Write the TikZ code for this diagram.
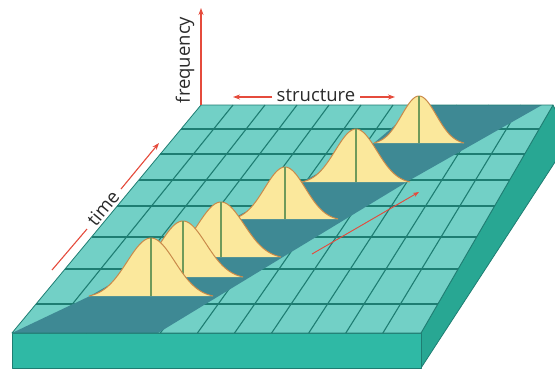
\documentclass[tikz,border=0pt]{standalone}
\usepackage{fontspec}
\setmainfont{Open Sans}
\usetikzlibrary{arrows.meta}
\definecolor{topc}{HTML}{72D0C6}
\definecolor{gridc}{HTML}{1E7D72}
\definecolor{shadec}{HTML}{3E8994}
\definecolor{frontc}{HTML}{2FB9A5}
\definecolor{sidec}{HTML}{28A793}
\definecolor{bellfill}{HTML}{FBE89C}
\definecolor{bellline}{HTML}{C98A4A}
\definecolor{bellmid}{HTML}{6F9A5A}
\definecolor{axisred}{HTML}{E54B3C}
\definecolor{textc}{HTML}{2A2A2A}
\tikzset{
  gridline/.style={draw=gridc, line width=1.1pt},
  edgeline/.style={draw=gridc, line width=0.8pt, line join=round},
  bellshape/.style={fill=bellfill, draw=bellline, line width=1pt},
  bellaxis/.style={draw=bellmid, line width=1.1pt},
  redarrow/.style={draw=axisred, fill=axisred, line width=1.1pt, -{Stealth[length=7pt,width=5pt]}},
  redline/.style={draw=axisred, line width=1.1pt},
  label/.style={text=textc, font=\fontsize{18.5}{18.5}\selectfont, inner sep=0pt}
}
\newcommand{\bellcurve}[4]{% cx, base y, half width, height
  \pgfmathsetmacro{\bs}{#3/2.6}
  \pgfmathsetmacro{\be}{exp(-3.38)}
  \filldraw[bellshape] plot[domain=-#3:#3, samples=70, smooth]
    ({#1+\x}, {#2 - #4*(exp(-(\x*\x)/(2*\bs*\bs)) - \be)/(1-\be)});
  \draw[bellaxis] (#1,#2-#4) -- (#1,#2);
}
\begin{document}
\begin{tikzpicture}[x=1pt,y=-1pt]
\useasboundingbox (0,0) rectangle (555,368);
\begin{scope}
\clip (0,0) rectangle (555,368);
% slab faces
\coordinate (FL) at (12,333);
\coordinate (BL) at (201,105);
\coordinate (BR) at (553,105);
\coordinate (FR) at (421,333);
\coordinate (FLb) at (12,368);
\coordinate (FRb) at (421,368);
\coordinate (BRb) at (570,139);
\filldraw[fill=sidec, edgeline] (FR) -- (BR) -- (BRb) -- (FRb) -- cycle;
\filldraw[fill=frontc, edgeline] (FL) -- (FR) -- (FRb) -- (FLb) -- cycle;
\fill[topc] (FL) -- (BL) -- (BR) -- (FR) -- cycle;
% grid rows
\foreach \yy in {129,154,180,206,237,269,304}{
  \pgfmathsetmacro{\xl}{201-0.82895*(\yy-105)}
  \pgfmathsetmacro{\xr}{553-0.57895*(\yy-105)}
  \draw[gridline] (\xl,\yy) -- (\xr,\yy);
}
% grid columns
\foreach \i in {1,...,10}{
  \pgfmathsetmacro{\xb}{201+32*\i}
  \pgfmathsetmacro{\xf}{12+37.09*\i}
  \draw[gridline] (\xb,105) -- (\xf,333);
}
% shadow
\fill[shadec] (12,333) -- (90,296) -- (123,277) -- (161,257) -- (232,219)
  -- (302,182) -- (374,143) -- (419,105) -- (542,105) -- (410,180)
  -- (283,257) -- (158,333) -- cycle;
% outline of the top
\draw[edgeline] (FL) -- (BL) -- (BR) -- (FR) -- cycle;
\end{scope}
% bells, back to front
\bellcurve{419}{143}{45}{47}
\bellcurve{356}{182}{54}{53}
\bellcurve{285}{219}{53}{52}
\bellcurve{221}{257}{60}{55}
\bellcurve{183}{277}{60}{56}
\bellcurve{151}{296}{62}{58}
% axes
\coordinate (fA) at (201,105);
\coordinate (fB) at (201,8);
\draw[redarrow] (fA) -- (fB);
\node[label, rotate=90] (freq) at (185,60) {frequency};
\node[label] (struct) at (316,95) {structure};
\coordinate (sL) at (233,97);
\coordinate (sR) at (395,97);
\coordinate (sL0) at (272,97);
\coordinate (sR0) at (360,97);
\draw[redarrow] (sL0) -- (sL);
\draw[redarrow] (sR0) -- (sR);
\node[label, rotate=50.3] (time) at (103,208) {time};
\coordinate (tA) at (52,270);
\coordinate (tA0) at (87,229);
\coordinate (tB0) at (121,189);
\coordinate (tB) at (159,143);
\draw[redline] (tA) -- (tA0);
\draw[redarrow] (tB0) -- (tB);
\coordinate (mA) at (312,254);
\coordinate (mB) at (419,192);
\draw[draw=axisred, fill=axisred, line width=0.9pt, -{Stealth[length=6pt,width=4.5pt]}] (mA) -- (mB);
\end{tikzpicture}
\end{document}
